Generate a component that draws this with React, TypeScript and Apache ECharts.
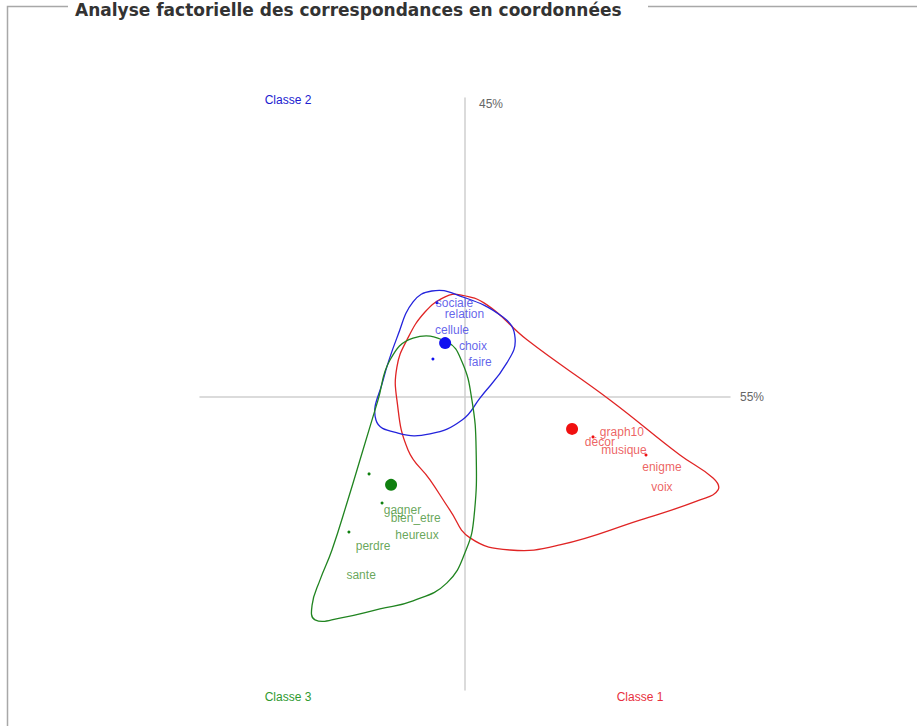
import React, { useEffect, useRef } from "react";
import * as echarts from "echarts";

// ---- Data (factor coordinates; axis 1 horizontal, axis 2 vertical) ----
const titleText = "Analyse factorielle des correspondances en coordonnées";
const axisXName = "55%";
const axisYName = "45%";
const classNames = ["Classe 1", "Classe 2", "Classe 3"];
const classColors = ["#f01010", "#1010f0", "#108010"];
const hullColors = ["#e02424", "#2424dc", "#208420"];
const labelColors = ["#e83a3a", "#3b3be6", "#3f8f2f"];

// class centroids [x, y]
const centroids: number[][] = [
  [0.404, -0.108],
  [-0.075, 0.182],
  [-0.279, -0.297],
];

// words (label positions) per class
const class1Words = ["graph10", "décor", "musique", "enigme", "voix"];
const class1WordPos: number[][] = [
  [0.592, -0.118], [0.509, -0.153], [0.6, -0.178], [0.743, -0.236], [0.743, -0.304],
];
const class2Words = ["sociale", "relation", "cellule", "choix", "faire"];
const class2WordPos: number[][] = [
  [-0.04, 0.318], [-0.002, 0.279], [-0.049, 0.226], [0.03, 0.172], [0.057, 0.118],
];
const class3Words = ["gagner", "bien_etre", "heureux", "perdre", "sante"];
const class3WordPos: number[][] = [
  [-0.236, -0.382], [-0.186, -0.41], [-0.181, -0.466], [-0.347, -0.503], [-0.392, -0.601],
];

// small point markers per class
const class1Points: number[][] = [[0.483, -0.135], [0.683, -0.196]];
const class2Points: number[][] = [[-0.106, 0.318], [-0.121, 0.128]];
const class3Points: number[][] = [[-0.362, -0.26], [-0.313, -0.358], [-0.438, -0.456]];

// class envelopes (closed smooth outlines)
const class1Hull: number[][] = [
  [-0.019, 0.345], [0.083, 0.311], [0.234, 0.193], [0.547, -0.01], [0.811, -0.196],
  [0.936, -0.274], [0.955, -0.314], [0.887, -0.348], [0.66, -0.416], [0.358, -0.5],
  [0.17, -0.517], [0.019, -0.476], [-0.057, -0.382], [-0.132, -0.28], [-0.215, -0.179],
  [-0.257, -0.01], [-0.257, 0.101], [-0.219, 0.193], [-0.151, 0.287], [-0.075, 0.338],
];
const class2Hull: number[][] = [
  [-0.336, -0.078], [-0.309, 0.057], [-0.253, 0.209], [-0.196, 0.321], [-0.125, 0.358],
  [-0.03, 0.345], [0.143, 0.27], [0.189, 0.199], [0.158, 0.115], [0.057, -0.003],
  [-0.011, -0.078], [-0.132, -0.125], [-0.253, -0.122],
];
const class3Hull: number[][] = [
  [-0.196, 0.199], [-0.068, 0.186], [-0.011, 0.118], [0.026, -0.01], [0.042, -0.179],
  [0.034, -0.405], [0.004, -0.517], [-0.068, -0.628], [-0.196, -0.689], [-0.321, -0.716],
  [-0.472, -0.747], [-0.566, -0.753], [-0.577, -0.703], [-0.547, -0.618], [-0.502, -0.517],
  [-0.442, -0.348], [-0.385, -0.179], [-0.328, -0.01], [-0.283, 0.125],
];

const FONT = "'Liberation Sans', Arial, sans-serif";

function hullSeries(name: string, pts: number[][], color: string) {
  return {
    type: "custom",
    name,
    coordinateSystem: "cartesian2d",
    silent: true,
    z: 2,
    data: pts,
    renderItem: (params: any, api: any) => {
      if (params.dataIndex !== 0) return null;
      const points = pts.map((p) => api.coord(p));
      return {
        type: "polygon",
        shape: { points, smooth: 0.45 },
        style: { fill: "none", stroke: color, lineWidth: 1.3 },
      };
    },
  };
}

function wordSeries(name: string, words: string[], pos: number[][], color: string) {
  return {
    type: "scatter",
    name,
    symbolSize: 0,
    z: 5,
    data: words.map((w, i) => ({ name: w, value: pos[i] })),
    label: {
      show: true,
      position: "inside",
      formatter: (p: any) => p.name,
      color,
      fontSize: 12,
      fontFamily: FONT,
    },
  };
}

function pointSeries(name: string, pts: number[][], color: string, size: number) {
  return {
    type: "scatter",
    name,
    symbol: "circle",
    symbolSize: size,
    z: 4,
    itemStyle: { color, opacity: 1 },
    data: pts,
  };
}

export default function App() {
  const ref = useRef<HTMLDivElement>(null);
  useEffect(() => {
    document.body.style.margin = "0";
    const chart = echarts.init(ref.current!, null, { renderer: "svg" });
    const option: any = {
      animation: false,
      backgroundColor: "#ffffff",
      grid: { left: 200, right: 187, top: 98, bottom: 36, containLabel: false },
      xAxis: {
        type: "value",
        min: -1,
        max: 1,
        name: axisXName,
        nameLocation: "end",
        nameGap: 10,
        nameTextStyle: { color: "#666", fontSize: 12, fontFamily: FONT },
        axisLine: { show: true, onZero: true, lineStyle: { color: "#cfcfcf", width: 1.5 } },
        axisTick: { show: false },
        axisLabel: { show: false },
        splitLine: { show: false },
      },
      yAxis: {
        type: "value",
        min: -0.99,
        max: 1.01,
        name: axisYName,
        nameLocation: "end",
        nameGap: 0,
        nameTextStyle: {
          color: "#666",
          fontSize: 12,
          fontFamily: FONT,
          align: "left",
          verticalAlign: "top",
          padding: [0, 0, 0, 14],
        },
        axisLine: { show: true, onZero: true, lineStyle: { color: "#cfcfcf", width: 1.5 } },
        axisTick: { show: false },
        axisLabel: { show: false },
        splitLine: { show: false },
      },
      series: [
        hullSeries(classNames[0], class1Hull, hullColors[0]),
        hullSeries(classNames[1], class2Hull, hullColors[1]),
        hullSeries(classNames[2], class3Hull, hullColors[2]),
        pointSeries(classNames[0] + " mots", class1Points, classColors[0], 3),
        pointSeries(classNames[1] + " mots", class2Points, classColors[1], 3),
        pointSeries(classNames[2] + " mots", class3Points, classColors[2], 3),
        pointSeries(classNames[0] + " centre", [centroids[0]], classColors[0], 12),
        pointSeries(classNames[1] + " centre", [centroids[1]], classColors[1], 12),
        pointSeries(classNames[2] + " centre", [centroids[2]], classColors[2], 12),
        wordSeries(classNames[0] + " labels", class1Words, class1WordPos, labelColors[0]),
        wordSeries(classNames[1] + " labels", class2Words, class2WordPos, labelColors[1]),
        wordSeries(classNames[2] + " labels", class3Words, class3WordPos, labelColors[2]),
      ],
      graphic: [
        {
          type: "polyline",
          silent: true,
          shape: { points: [[7.5, 726], [7.5, 6.5], [68, 6.5]] },
          style: { fill: "none", stroke: "#a8a8a8", lineWidth: 1.5 },
        },
        {
          type: "line",
          silent: true,
          shape: { x1: 648, y1: 6.5, x2: 917, y2: 6.5 },
          style: { stroke: "#a8a8a8", lineWidth: 1.5 },
        },
        {
          type: "text",
          x: 75,
          y: 10,
          style: {
            text: titleText,
            fill: "#333",
            font: "bold 17px 'DejaVu Sans', sans-serif",
            verticalAlign: "middle",
          },
        },
        {
          type: "text",
          x: 288,
          y: 100,
          style: {
            text: classNames[1], fill: "#2020d0", font: "12px " + FONT,
            align: "center", verticalAlign: "middle",
          },
        },
        {
          type: "text",
          x: 288,
          y: 697,
          style: {
            text: classNames[2], fill: "#2f9a2f", font: "12px " + FONT,
            align: "center", verticalAlign: "middle",
          },
        },
        {
          type: "text",
          x: 640,
          y: 697,
          style: {
            text: classNames[0], fill: "#e83040", font: "12px " + FONT,
            align: "center", verticalAlign: "middle",
          },
        },
      ],
    };
    chart.setOption(option);
    return () => chart.dispose();
  }, []);
  return <div ref={ref} style={{ width: 917, height: 726 }} />;
}
